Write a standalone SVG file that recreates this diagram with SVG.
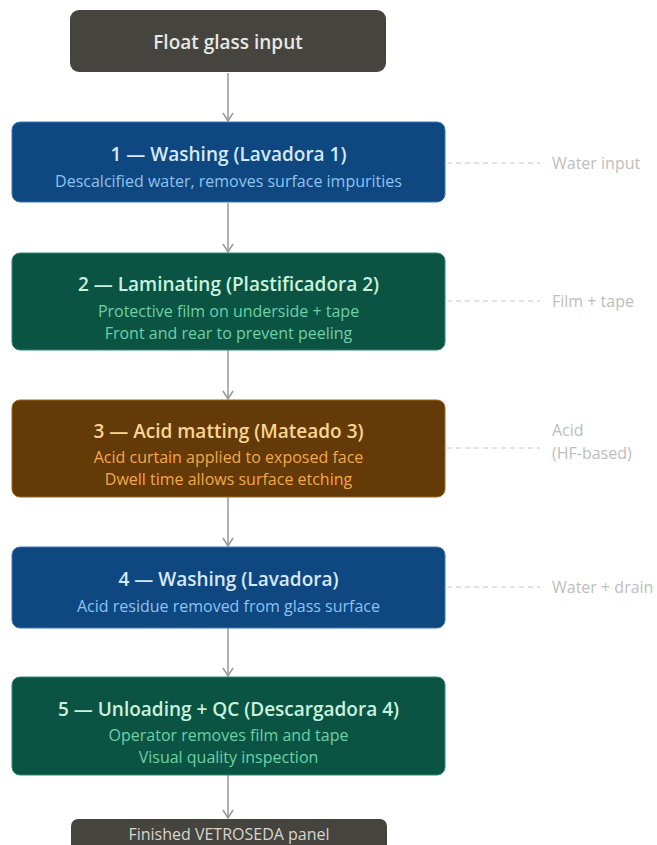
<svg xmlns="http://www.w3.org/2000/svg" width="657" height="845" viewBox="0 0 657 845">
<defs>
<marker id="arr" viewBox="0 0 10 12" refX="9" refY="6" markerWidth="10" markerHeight="12" markerUnits="userSpaceOnUse" orient="auto">
<path d="M1,1 L9,6 L1,11" fill="none" stroke="#999" stroke-width="1.5"/>
</marker>
<style>
text{font-family:"Open Sans","Noto Sans","DejaVu Sans",sans-serif;text-anchor:middle}
.t{font-size:19px;font-weight:600}
.s{font-size:16px}
.side{font-size:16px;fill:#bdbdbd;text-anchor:start}
.dash{stroke:#c8c8c8;stroke-width:1;stroke-dasharray:5 4;fill:none}
.con{stroke:#999;stroke-width:1.5;fill:none}
.gray{fill:#45443f}
.blue{fill:#0f4780;stroke:#3a78b5;stroke-width:1}
.green{fill:#0b5444;stroke:#2a8a6c;stroke-width:1}
.brown{fill:#633a08;stroke:#9c6420;stroke-width:1}
.bt{fill:#d6e9fb}.bs{fill:#8ec3f0}
.gt{fill:#c9f2dd}.gs{fill:#6ed0a4}
.rt{fill:#fcd592}.rs{fill:#f4a84c}
</style>
</defs>
<rect width="657" height="845" fill="#ffffff"/>
<g id="connectors">
<line class="con" x1="228" y1="73" x2="228" y2="121" marker-end="url(#arr)"/>
<line class="con" x1="228" y1="203" x2="228" y2="252" marker-end="url(#arr)"/>
<line class="con" x1="228" y1="350" x2="228" y2="399" marker-end="url(#arr)"/>
<line class="con" x1="228" y1="497" x2="228" y2="546" marker-end="url(#arr)"/>
<line class="con" x1="228" y1="628" x2="228" y2="676" marker-end="url(#arr)"/>
<line class="con" x1="228" y1="775" x2="228" y2="818" marker-end="url(#arr)"/>
<line class="dash" x1="447" y1="163" x2="540" y2="163"/>
<line class="dash" x1="447" y1="301" x2="540" y2="301"/>
<line class="dash" x1="447" y1="448" x2="540" y2="448"/>
<line class="dash" x1="447" y1="587" x2="540" y2="587"/>
</g>
<g id="input">
<rect class="gray" x="70" y="10" width="316" height="62" rx="9"/>
<text x="228" y="49" style="font-size:19px;font-weight:600;fill:#e9e7e1">Float glass input</text>
</g>
<g id="step1">
<rect class="blue" x="12" y="122" width="433" height="80" rx="8"/>
<text class="t bt" x="228.5" y="161">1 — Washing (Lavadora 1)</text>
<text class="s bs" x="228.5" y="187">Descalcified water, removes surface impurities</text>
</g>
<g id="step2">
<rect class="green" x="12" y="253" width="433" height="97" rx="8"/>
<text class="t gt" x="228.5" y="291">2 — Laminating (Plastificadora 2)</text>
<text class="s gs" x="228.5" y="317">Protective film on underside + tape</text>
<text class="s gs" x="228.5" y="339">Front and rear to prevent peeling</text>
</g>
<g id="step3">
<rect class="brown" x="12" y="400" width="433" height="97" rx="8"/>
<text class="t rt" x="228.5" y="438">3 — Acid matting (Mateado 3)</text>
<text class="s rs" x="228.5" y="463">Acid curtain applied to exposed face</text>
<text class="s rs" x="228.5" y="485">Dwell time allows surface etching</text>
</g>
<g id="step4">
<rect class="blue" x="12" y="547" width="433" height="81" rx="8"/>
<text class="t bt" x="228.5" y="586">4 — Washing (Lavadora)</text>
<text class="s bs" x="228.5" y="612">Acid residue removed from glass surface</text>
</g>
<g id="step5">
<rect class="green" x="12" y="677" width="433" height="98" rx="8"/>
<text class="t gt" x="228.5" y="716">5 — Unloading + QC (Descargadora 4)</text>
<text class="s gs" x="228.5" y="741">Operator removes film and tape</text>
<text class="s gs" x="228.5" y="763">Visual quality inspection</text>
</g>
<g id="output">
<rect class="gray" x="71" y="819" width="316" height="40" rx="7"/>
<text x="229" y="840" style="font-size:16px;fill:#d8d6d0">Finished VETROSEDA panel</text>
</g>
<g id="side-labels">
<text class="side" x="552" y="169">Water input</text>
<text class="side" x="552" y="307">Film + tape</text>
<text class="side" x="552" y="436">Acid</text>
<text class="side" x="552" y="459">(HF-based)</text>
<text class="side" x="552" y="593">Water + drain</text>
</g>
</svg>
